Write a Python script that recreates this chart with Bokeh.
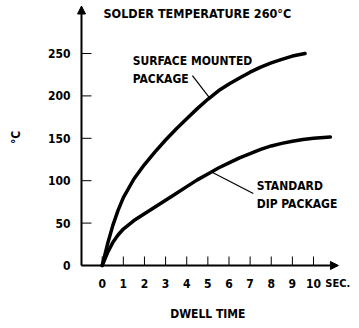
from bokeh.plotting import figure
from bokeh.models import Range1d, Arrow, NormalHead
from bokeh.core.properties import value
from bokeh.embed import file_html
from bokeh.resources import INLINE
import math

# ---- data ----
surface_x = [0, 0.25, 0.5, 0.75, 1.0, 1.5, 2.0, 2.5, 3.0, 3.5, 4.0, 4.5, 5.0, 5.5, 6.0,
             6.5, 7.0, 7.5, 8.0, 8.5, 9.0, 9.6]
surface_y = [0, 25, 47, 65, 80, 102, 119, 134, 148, 161, 173, 185, 196, 206, 214,
             221, 228, 234, 239, 243, 247, 250]

standard_x = [0, 0.25, 0.5, 0.75, 1.0, 1.5, 2.0, 2.5, 3.0, 3.5, 4.0, 4.5, 5.0, 5.5, 6.0,
              6.5, 7.0, 7.5, 8.0, 8.5, 9.0, 9.5, 10.0, 10.8]
standard_y = [0, 15, 27, 36, 43, 53, 61, 69, 77, 85, 93, 101, 108, 115, 121,
              127, 132, 137, 141, 144, 146.5, 148.5, 150, 151.5]

surface_leader_x = [4.27, 5.07]
surface_leader_y = [224, 198]
standard_leader_x = [5.2, 7.15]
standard_leader_y = [110, 85]

x_ticks = [0, 1, 2, 3, 4, 5, 6, 7, 8, 9, 10]
x_tick_labels = [str(t) for t in x_ticks]
y_ticks = [0, 50, 100, 150, 200, 250]
y_tick_labels = [str(t) for t in y_ticks]

title_text = "SOLDER TEMPERATURE 260\u00b0C"
surface_label = ["SURFACE MOUNTED", "PACKAGE"]
standard_label = ["STANDARD", "DIP PACKAGE"]
x_unit = "SEC."
x_title = "DWELL TIME"
y_title = "\u00b0C"

# ---- layout / style ----
W, H = 351, 320
X_LO, X_HI = -4.813, 11.798      # visible window (whole canvas)
Y_LO, Y_HI = -64.86, 312.5
AXIS_X = -0.98                   # where the vertical axis sits
X_ARROW_END = 11.18
Y_ARROW_END = 306.0
X_TICK_LEN = 10.6                # in y units (~9 px)
Y_TICK_LEN = 0.473               # in x units (~10 px)
LABEL_Y = -21.2                  # x tick label row

FONT = "DejaVu Sans Condensed"
FS = "12px"

p = figure(width=W, height=H, output_backend="svg", toolbar_location=None,
           x_range=Range1d(X_LO, X_HI), y_range=Range1d(Y_LO, Y_HI),
           min_border=0)
p.axis.visible = False
p.outline_line_color = None
p.grid.visible = False
p.background_fill_color = "white"
p.border_fill_color = "white"

# axes with arrow heads
p.add_layout(Arrow(end=NormalHead(size=8, fill_color="black", line_color="black"),
                   x_start=AXIS_X, y_start=0, x_end=X_ARROW_END, y_end=0,
                   line_width=2, line_color="black"))
p.add_layout(Arrow(end=NormalHead(size=8, fill_color="black", line_color="black"),
                   x_start=AXIS_X, y_start=0, x_end=AXIS_X, y_end=Y_ARROW_END,
                   line_width=2, line_color="black"))

# ticks
p.segment(x0=x_ticks, y0=[0] * len(x_ticks), x1=x_ticks, y1=[X_TICK_LEN] * len(x_ticks),
          line_color="black", line_width=1)
p.segment(x0=[AXIS_X] * len(y_ticks), y0=y_ticks,
          x1=[AXIS_X + Y_TICK_LEN] * len(y_ticks), y1=y_ticks,
          line_color="black", line_width=1)

def txt(x, y, text, align="left", angle=0.0, size=FS):
    p.text(x=x, y=y, text=text, text_font=value(FONT), text_font_size=value(size),
           text_font_style="bold", text_color="black", text_align=align,
           text_baseline="middle", angle=angle)

# tick labels
txt([AXIS_X - 0.52] * len(y_ticks), y_ticks, y_tick_labels, align="right")
txt(x_ticks, [LABEL_Y] * len(x_ticks), x_tick_labels, align="center")
txt([11.15], [LABEL_Y], [x_unit], align="center", size="11px")

# axis titles
txt([5.0], [-57.0], [x_title], align="center")
txt([-4.06], [151], [y_title], align="center", angle=math.pi / 2)

# curves
p.line(surface_x, surface_y, line_width=3.5, color="black", line_cap="round", line_join="round")
p.line(standard_x, standard_y, line_width=3.5, color="black", line_cap="round", line_join="round")
p.line(surface_leader_x, surface_leader_y, line_width=1.2, color="black")
p.line(standard_leader_x, standard_leader_y, line_width=1.2, color="black")

# annotations
txt([0.06], [297.2], [title_text], size="12.5px")
txt([1.44, 1.44], [241.7, 220], surface_label)
txt([7.31, 7.31], [94.3, 73.1], standard_label)

open("out.html", "w").write(file_html(p, INLINE))
